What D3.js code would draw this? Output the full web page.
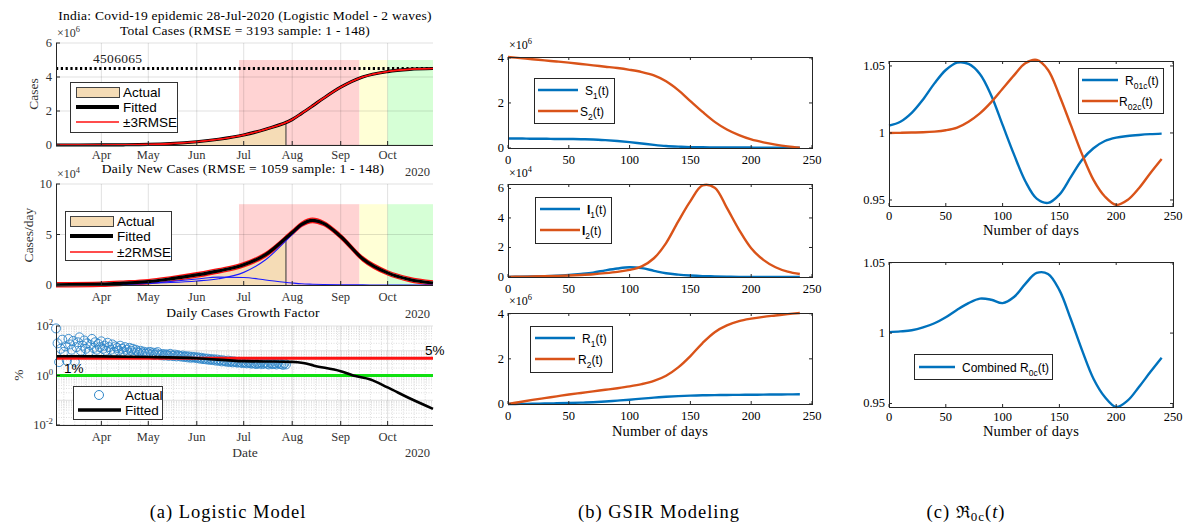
<!DOCTYPE html>
<html>
<head>
<meta charset="utf-8">
<script src="https://cdn.jsdelivr.net/npm/d3@7"></script>
<style>
  body { margin: 0; background: #fff; }
  svg { display: block; }
</style>
</head>
<body>
<svg id="fig" width="1184" height="524"></svg>
<script>
// ---------------- data ----------------
// (a) logistic model, fitted curves, key dates
const fitDates = ["2020-03-03","2020-04-01","2020-04-15","2020-05-01","2020-05-15","2020-06-01","2020-06-15",
  "2020-07-01","2020-07-15","2020-08-01","2020-08-07","2020-08-14","2020-08-21","2020-09-01","2020-09-15",
  "2020-10-01","2020-10-15","2020-10-30"];
const fitTotal = [0, 0.002, 0.012, 0.035, 0.08, 0.19, 0.34, 0.59, 0.93, 1.5, 1.86, 2.3, 2.75, 3.4, 4.0, 4.32, 4.45, 4.5]; // x1e6
const fitDaily = [0.02, 0.08, 0.18, 0.33, 0.6, 1.0, 1.4, 2.0, 3.0, 5.2, 6.0, 6.4, 6.1, 4.8, 2.6, 1.2, 0.55, 0.2]; // x1e4
const wave1Daily = [0, 0.01, 0.05, 0.15, 0.35, 0.6, 0.78, 0.75, 0.5, 0.2, 0.12, 0.08, 0.05, 0.02, 0.01, 0, 0, 0];
const wave2Daily = [0.02, 0.07, 0.13, 0.18, 0.25, 0.4, 0.62, 1.25, 2.5, 5.0, 5.88, 6.32, 6.05, 4.78, 2.59, 1.2, 0.55, 0.2];
const actualDates = ["2020-03-03","2020-04-01","2020-04-15","2020-05-01","2020-05-15","2020-06-01","2020-06-15",
  "2020-07-01","2020-07-15","2020-07-28"];
const actualTotal = [0, 0.002, 0.012, 0.035, 0.08, 0.19, 0.33, 0.59, 0.94, 1.42]; // x1e6
const actualDaily = [0, 0.05, 0.1, 0.2, 0.37, 0.8, 1.1, 1.9, 2.9, 4.8];           // x1e4
const finalSize = 4506065;
const rmseTotal = 3193, rmseDaily = 1059;
const zoneStart = ["2020-06-28", "2020-09-13", "2020-10-01"];
const zoneEnd = ["2020-09-13", "2020-10-01", "2020-10-30"];
// daily growth factor (%), one value per day from 3 Mar to 28 Jul
const growthStart = "2020-03-03";
const growthActual = [
  80, 20, 3.5, 12, 28, 9, 15, 4, 30, 18, 11, 25, 3.6, 14, 22, 35, 10, 16, 26, 12, 20, 9, 17, 30, 13, 22, 11, 19, 14,
  24, 12, 16, 10, 21, 14, 11, 18, 9, 15, 13, 10, 16, 12, 9, 14, 11, 8.5, 13, 10, 12, 8, 11, 9.5, 8.2, 10, 8, 9.2, 7.5, 8.6,
  7.8, 9, 7.2, 8.4, 6.8, 7.9, 8.8, 7, 6.6, 7.4, 6.4, 7.2, 6.9, 6.2, 7.5, 6.5, 6.1, 7, 5.9, 6.6, 6.2, 5.8, 6.4, 5.6, 6.0, 5.4, 5.9, 5.2, 5.7, 5.3, 5.5,
  5.0, 5.4, 4.8, 5.2, 4.6, 4.9, 4.5, 4.8, 4.3, 4.6, 4.2, 4.5, 4.0, 4.4, 3.9, 4.2, 3.7, 4.1, 3.8, 3.6, 4.0, 3.5, 3.8, 3.4, 3.7, 3.5, 3.3, 3.6, 3.4, 3.2,
  3.5, 3.3, 3.1, 3.4, 3.2, 3.0, 3.3, 3.1, 2.9, 3.2, 3.0, 3.4, 2.9, 3.1, 3.3, 3.0, 2.8, 3.2, 3.0, 2.9, 3.1, 2.8, 3.3, 3.0, 2.9, 2.7, 3.1, 2.8];
const growthFitDates = ["2020-03-03","2020-04-01","2020-05-01","2020-06-01","2020-07-01","2020-07-15","2020-08-01",
  "2020-08-08","2020-08-15","2020-09-01","2020-09-09","2020-09-20","2020-10-01","2020-10-15","2020-10-30"];
const growthFit = [6.0, 5.9, 5.6, 5.0, 3.8, 3.7, 3.55, 3.2, 2.5, 1.5, 1.0, 0.69, 0.33, 0.12, 0.045];
const growthRed = 5, growthGreen = 1;

// (b) GSIR model, every 10 days
const days = [0,10,20,30,40,50,60,70,80,90,100,110,120,130,140,150,160,170,180,190,200,210,220,230,240];
const S1 = [0.42,0.42,0.41,0.41,0.40,0.40,0.39,0.38,0.35,0.31,0.26,0.20,0.14,0.09,0.06,0.04,0.03,0.02,0.02,0.02,0.02,0.01,0.01,0.01,0.01]; // x1e6
const S2 = [4.04,3.99,3.94,3.89,3.84,3.79,3.73,3.67,3.61,3.55,3.47,3.37,3.22,2.96,2.57,2.08,1.60,1.16,0.82,0.57,0.38,0.25,0.15,0.07,0.01];
const I1 = [0.01,0.02,0.04,0.06,0.09,0.14,0.21,0.30,0.45,0.58,0.66,0.60,0.42,0.25,0.16,0.10,0.06,0.04,0.02,0.01,0.01,0.01,0.01,0.01,0.01]; // x1e4
const I2 = [0.01,0.02,0.03,0.05,0.07,0.10,0.14,0.19,0.26,0.35,0.48,0.72,1.27,2.30,3.77,5.14,6.20,6.05,4.68,3.20,1.95,1.16,0.66,0.36,0.20];
const R1 = [0,0.005,0.01,0.02,0.03,0.045,0.06,0.08,0.11,0.15,0.19,0.24,0.28,0.32,0.35,0.37,0.385,0.395,0.40,0.405,0.41,0.415,0.42,0.425,0.43]; // x1e6
const R2 = [0,0.09,0.18,0.26,0.34,0.42,0.49,0.56,0.63,0.70,0.78,0.88,1.02,1.25,1.62,2.12,2.70,3.18,3.48,3.67,3.78,3.86,3.92,3.98,4.03];

// (c) reproduction numbers
const R01c = [1.0055,1.0084,1.0150,1.0250,1.0370,1.0470,1.0525,1.0515,1.044,1.028,1.006,0.984,0.964,0.951,0.9478,0.954,0.967,0.980,0.9886,0.994,0.9965,0.9977,0.9985,0.9991,0.9995];
const R02c = [1.0,1.0001,1.0003,1.0005,1.001,1.002,1.004,1.0084,1.0146,1.023,1.033,1.043,1.052,1.0545,1.047,1.028,1.006,0.984,0.965,0.9526,0.9463,0.95,0.9588,0.970,0.9806];
const R0c = [1.0007,1.0012,1.002,1.004,1.007,1.0113,1.0166,1.0213,1.0245,1.0237,1.0213,1.0256,1.035,1.0427,1.042,1.0305,1.010,0.9877,0.9676,0.9546,0.9475,0.952,0.9617,0.9723,0.9825];

// ---------------- setup ----------------
const svg = d3.select("#fig");
const parse = d3.utcParse("%Y-%m-%d");
const SERIF = '"Liberation Serif","DejaVu Serif",serif';
const SANS = '"Liberation Sans",Arial,sans-serif';
const AX = "#262626";
const BLUE = "#0072BD", ORANGE = "#D95319";
const zoneColor = ["#ffd3d3", "#ffffd6", "#d6ffd6"];

function text(x, y, s, o = {}) {
  return svg.append("text").attr("x", x).attr("y", y)
    .attr("font-family", o.family || SERIF).attr("font-size", o.size || 12)
    .attr("text-anchor", o.anchor || "start").attr("fill", o.fill || "#000")
    .attr("letter-spacing", o.spacing || null)
    .text(s);
}
// "x10^n" multiplier label
function powLabel(x, y, base, exp, o = {}) {
  const t = text(x, y, "", o);
  t.append("tspan").text(base);
  t.append("tspan").attr("dy", -5).attr("font-size", (o.size || 12) * 0.7).text(exp);
  return t;
}
// legend text with subscript
function subText(x, y, main, sub, tail, o = {}) {
  const t = text(x, y, "", Object.assign({ family: SANS, size: 12 }, o));
  t.append("tspan").attr("font-weight", o.bold ? "bold" : null).text(main);
  t.append("tspan").attr("dy", 4).attr("font-size", 8.5).text(sub);
  t.append("tspan").attr("dy", -4).text(tail);
  return t;
}

// ---------------- (a) logistic model ----------------
const xDate = d3.scaleUtc().domain([parse("2020-03-03"), parse("2020-10-30")]).range([56, 433]);
const months = d3.utcMonth.range(parse("2020-04-01"), parse("2020-10-02"));
const fmtMonth = d3.utcFormat("%b");

function dateGrid(y, yTicks, minor) {
  const g = svg.append("g").attr("stroke", "#000");
  const [yb, yt] = y.range();
  if (minor) {
    g.selectAll(null).data(d3.utcWeek.range(xDate.domain()[0], xDate.domain()[1])).join("line")
      .attr("x1", d => xDate(d)).attr("x2", d => xDate(d)).attr("y1", yb).attr("y2", yt)
      .attr("stroke-opacity", 0.13).attr("stroke-dasharray", "1,1.5");
    g.selectAll(null).data(minor).join("line")
      .attr("x1", 56).attr("x2", 433).attr("y1", d => y(d)).attr("y2", d => y(d))
      .attr("stroke-opacity", 0.14).attr("stroke-dasharray", "1,1.5");
  }
  g.selectAll(null).data(months).join("line")
    .attr("x1", d => xDate(d)).attr("x2", d => xDate(d)).attr("y1", yb).attr("y2", yt)
    .attr("stroke-opacity", 0.12);
  g.selectAll(null).data(yTicks).join("line")
    .attr("x1", 56).attr("x2", 433).attr("y1", d => y(d)).attr("y2", d => y(d))
    .attr("stroke-opacity", 0.12);
}
function dateAxes(y, yTicks, yLabel, monthY) {
  const [yb, yt] = y.range();
  const g = svg.append("g").attr("stroke", AX).attr("stroke-width", 1);
  g.append("line").attr("x1", 56.5).attr("x2", 56.5).attr("y1", yb).attr("y2", yt);
  g.append("line").attr("x1", 56).attr("x2", 433).attr("y1", yb + 0.5).attr("y2", yb + 0.5);
  g.selectAll(null).data(months).join("line")
    .attr("x1", d => xDate(d)).attr("x2", d => xDate(d)).attr("y1", yb).attr("y2", yb - 4);
  g.selectAll(null).data(yTicks).join("line")
    .attr("x1", 56).attr("x2", 60).attr("y1", d => y(d)).attr("y2", d => y(d));
  months.forEach(m => text(xDate(m), monthY, fmtMonth(m), { anchor: "middle", size: 12.5, fill: "#333" }));
  if (yLabel) yTicks.forEach(v => text(52, y(v) + 4, yLabel(v), { anchor: "end", size: 12.5, fill: "#333" }));
}
function zones(y, top) {
  zoneStart.forEach((s, i) => {
    svg.append("rect").attr("x", xDate(parse(s))).attr("y", y(top))
      .attr("width", xDate(parse(zoneEnd[i])) - xDate(parse(s))).attr("height", y(0) - y(top))
      .attr("fill", zoneColor[i]);
  });
}
const fitPts = (arr, off = 0) => fitDates.map((d, i) => [parse(d), arr[i] + off]);
const actPts = arr => actualDates.map((d, i) => [parse(d), arr[i]]);
const LEG = { family: SANS, size: 13.5 };

// titles
text(245, 20, "India: Covid-19 epidemic 28-Jul-2020 (Logistic Model - 2 waves)", { anchor: "middle", size: 13.5, spacing: 0.25 });
text(245, 35, "Total Cases (RMSE = 3193 sample: 1 - 148)", { anchor: "middle", size: 13.5, spacing: 0.25 });

// panel 1 : total cases
{
  const y = d3.scaleLinear().domain([0, 6]).range([145, 43]);
  const line = d3.line().x(d => xDate(d[0])).y(d => y(d[1])).curve(d3.curveMonotoneX);
  zones(y, 5);
  dateGrid(y, [0, 2, 4, 6]);
  svg.append("path").datum(actPts(actualTotal))
    .attr("d", d3.area().x(d => xDate(d[0])).y0(y(0)).y1(d => y(d[1])).curve(d3.curveMonotoneX))
    .attr("fill", "#f5dcb6").attr("stroke", "none");
  const last = actualDates.length - 1;
  svg.append("line").attr("x1", xDate(parse(actualDates[last]))).attr("x2", xDate(parse(actualDates[last])))
    .attr("y1", y(0)).attr("y2", y(actualTotal[last])).attr("stroke", "#333").attr("stroke-width", 1);
  svg.append("line").attr("x1", 56).attr("x2", 433).attr("y1", y(finalSize / 1e6)).attr("y2", y(finalSize / 1e6))
    .attr("stroke", "#000").attr("stroke-width", 3).attr("stroke-dasharray", "2.2,2.6");
  text(93, 63, String(finalSize), { size: 13.5, fill: "#222", spacing: 0.3 });
  svg.append("path").datum(fitPts(fitTotal)).attr("d", line)
    .attr("fill", "none").attr("stroke", "#000").attr("stroke-width", 3.2);
  [-3, 3].forEach(k => svg.append("path").datum(fitPts(fitTotal, k * rmseTotal / 1e6)).attr("d", line)
    .attr("fill", "none").attr("stroke", "#ff1010").attr("stroke-width", 1.3));
  dateAxes(y, [0, 2, 4, 6], v => v, 159);
  powLabel(57, 37, "×10", "6", { size: 12, fill: "#333" });
  text(0, 0, "Cases", { anchor: "middle", size: 13.5, fill: "#333" }).attr("transform", "translate(38,94) rotate(-90)");
  text(430, 176, "2020", { anchor: "end", size: 12.5, fill: "#333" });
  // legend
  svg.append("rect").attr("x", 70.5).attr("y", 82.5).attr("width", 107).attr("height", 50)
    .attr("fill", "#fff").attr("stroke", "#333");
  svg.append("rect").attr("x", 76.5).attr("y", 87.5).attr("width", 43).attr("height", 10)
    .attr("fill", "#f5dcb6").attr("stroke", "#444");
  svg.append("line").attr("x1", 76).attr("x2", 119).attr("y1", 107).attr("y2", 107).attr("stroke", "#000").attr("stroke-width", 4);
  svg.append("line").attr("x1", 76).attr("x2", 119).attr("y1", 122).attr("y2", 122).attr("stroke", "#ff1010").attr("stroke-width", 1.5);
  text(123, 97, "Actual", LEG);
  text(123, 112, "Fitted", LEG);
  text(123, 127, "±3RMSE", LEG);
}

// panel 2 : daily new cases
{
  const y = d3.scaleLinear().domain([0, 10]).range([285, 184]);
  const line = d3.line().x(d => xDate(d[0])).y(d => y(d[1])).curve(d3.curveMonotoneX);
  text(243, 173, "Daily New Cases (RMSE = 1059 sample: 1 - 148)", { anchor: "middle", size: 13.5, spacing: 0.25 });
  zones(y, 8);
  dateGrid(y, [0, 5, 10]);
  svg.append("path").datum(actPts(actualDaily))
    .attr("d", d3.area().x(d => xDate(d[0])).y0(y(0)).y1(d => y(d[1])).curve(d3.curveMonotoneX))
    .attr("fill", "#f5dcb6");
  const last = actualDates.length - 1;
  svg.append("line").attr("x1", xDate(parse(actualDates[last]))).attr("x2", xDate(parse(actualDates[last])))
    .attr("y1", y(0)).attr("y2", y(actualDaily[last])).attr("stroke", "#333");
  [-2, 2].forEach(k => svg.append("path").datum(fitPts(fitDaily, k * rmseDaily / 1e4)).attr("d", line)
    .attr("fill", "none").attr("stroke", "#ff1010").attr("stroke-width", 1.3));
  [wave1Daily, wave2Daily].forEach(w => svg.append("path").datum(fitPts(w)).attr("d", line)
    .attr("fill", "none").attr("stroke", "#1a1aff").attr("stroke-width", 1.1));
  svg.append("path").datum(fitPts(fitDaily)).attr("d", line)
    .attr("fill", "none").attr("stroke", "#000").attr("stroke-width", 3.2);
  dateAxes(y, [0, 5, 10], v => v, 301);
  powLabel(57, 178, "×10", "4", { size: 12, fill: "#333" });
  text(0, 0, "Cases/day", { anchor: "middle", size: 13.5, fill: "#333" }).attr("transform", "translate(33,235) rotate(-90)");
  text(430, 318, "2020", { anchor: "end", size: 12.5, fill: "#333" });
  svg.append("rect").attr("x", 65.5).attr("y", 211.5).attr("width", 106).attr("height", 49)
    .attr("fill", "#fff").attr("stroke", "#333");
  svg.append("rect").attr("x", 70.5).attr("y", 216.5).attr("width", 43).attr("height", 10)
    .attr("fill", "#f5dcb6").attr("stroke", "#444");
  svg.append("line").attr("x1", 70).attr("x2", 113).attr("y1", 236).attr("y2", 236).attr("stroke", "#000").attr("stroke-width", 4);
  svg.append("line").attr("x1", 70).attr("x2", 113).attr("y1", 252).attr("y2", 252).attr("stroke", "#ff1010").attr("stroke-width", 1.5);
  text(117, 226, "Actual", LEG);
  text(117, 241, "Fitted", LEG);
  text(117, 257, "±2RMSE", LEG);
}

// panel 3 : growth factor
{
  const y = d3.scaleLog().domain([1e-2, 1e2]).range([425, 326]);
  text(243, 317, "Daily Cases Growth Factor", { anchor: "middle", size: 13.5, spacing: 0.25 });
  const minor = [];
  [1e-2, 1e-1, 1, 10].forEach(dec => { for (let k = 2; k <= 9; k++) minor.push(dec * k); });
  dateGrid(y, [1e-2, 1e-1, 1, 10, 100], minor);
  const x0 = parse(growthStart);
  svg.append("g").selectAll("circle").data(growthActual).join("circle")
    .attr("cx", (d, i) => xDate(d3.utcDay.offset(x0, i))).attr("cy", d => y(d)).attr("r", 4.5)
    .attr("fill", "none").attr("stroke", "#2f86c8").attr("stroke-width", 0.9);
  svg.append("line").attr("x1", 56).attr("x2", 433).attr("y1", y(growthRed)).attr("y2", y(growthRed))
    .attr("stroke", "#ff1010").attr("stroke-width", 3);
  svg.append("line").attr("x1", 56).attr("x2", 433).attr("y1", y(growthGreen)).attr("y2", y(growthGreen))
    .attr("stroke", "#10e010").attr("stroke-width", 3);
  svg.append("path").datum(growthFitDates.map((d, i) => [parse(d), growthFit[i]]))
    .attr("d", d3.line().x(d => xDate(d[0])).y(d => y(d[1])).curve(d3.curveMonotoneX))
    .attr("fill", "none").attr("stroke", "#000").attr("stroke-width", 2.6);
  dateAxes(y, [1e-2, 1, 100], null, 441);
  [[1e-2, "-2"], [1, "0"], [100, "2"]].forEach(([v, e]) => powLabel(53, y(v) + 4, "10", e, { anchor: "end", size: 12.5, fill: "#333" }));
  text(0, 0, "%", { anchor: "middle", size: 13.5, fill: "#333" }).attr("transform", "translate(23,375) rotate(-90)");
  text(245, 457, "Date", { anchor: "middle", size: 13.5, fill: "#333" });
  text(430, 457, "2020", { anchor: "end", size: 12.5, fill: "#333" });
  text(425, 355, "5%", { family: SANS, size: 13.5 });
  text(64, 373, "1%", { family: SANS, size: 13.5 });
  svg.append("rect").attr("x", 73.5).attr("y", 386.5).attr("width", 89).attr("height", 33)
    .attr("fill", "#fff").attr("stroke", "#333");
  svg.append("circle").attr("cx", 99).attr("cy", 395).attr("r", 4.5).attr("fill", "none").attr("stroke", "#2f86c8");
  svg.append("line").attr("x1", 78).attr("x2", 121).attr("y1", 410).attr("y2", 410).attr("stroke", "#000").attr("stroke-width", 3.5);
  text(125, 400, "Actual", LEG);
  text(125, 415, "Fitted", LEG);
}

// ---------------- (b) and (c) boxed panels ----------------
function boxPanel(x, y, xTicks, yTicks, yFmt, tickLabelY) {
  const [x0, x1] = x.range();
  const [yb, yt] = y.range();
  const g = svg.append("g").attr("stroke", AX);
  g.append("rect").attr("x", x0 + 0.5).attr("y", yt + 0.5).attr("width", x1 - x0).attr("height", yb - yt)
    .attr("fill", "none");
  xTicks.forEach(v => {
    g.append("line").attr("x1", x(v)).attr("x2", x(v)).attr("y1", yb).attr("y2", yb - 3);
    g.append("line").attr("x1", x(v)).attr("x2", x(v)).attr("y1", yt).attr("y2", yt + 3);
    text(x(v), tickLabelY, v, { anchor: "middle", size: 12.5 });
  });
  yTicks.forEach(v => {
    g.append("line").attr("x1", x0).attr("x2", x0 + 3).attr("y1", y(v)).attr("y2", y(v));
    g.append("line").attr("x1", x1).attr("x2", x1 - 3).attr("y1", y(v)).attr("y2", y(v));
    text(x0 - 4, y(v) + 4, yFmt(v), { anchor: "end", size: 12.5 });
  });
}
function series(x, y, arr, color) {
  svg.append("path").datum(days.map((d, i) => [d, arr[i]]))
    .attr("d", d3.line().x(d => x(d[0])).y(d => y(d[1])).curve(d3.curveCatmullRom.alpha(0.5)))
    .attr("fill", "none").attr("stroke", color).attr("stroke-width", 2.4);
}
function legendBox(x, y, w, h) {
  svg.append("rect").attr("x", x + 0.5).attr("y", y + 0.5).attr("width", w).attr("height", h)
    .attr("fill", "#fff").attr("stroke", AX);
}
function legendLine(x1, x2, y, color) {
  svg.append("line").attr("x1", x1).attr("x2", x2).attr("y1", y).attr("y2", y)
    .attr("stroke", color).attr("stroke-width", 2.6);
}

const xDays = d3.scaleLinear().domain([0, 250]).range([508, 812]);
const dayTicks = [0, 50, 100, 150, 200, 250];
{
  const y = d3.scaleLinear().domain([0, 4.04]).range([148, 57]);
  series(xDays, y, S1, BLUE); series(xDays, y, S2, ORANGE);
  boxPanel(xDays, y, dayTicks, [0, 2, 4], v => v, 164);
  powLabel(509, 49, "×10", "6", { size: 12 });
  legendBox(534, 78, 80, 45);
  legendLine(538, 578, 90, BLUE); legendLine(538, 578, 111, ORANGE);
  subText(585, 95, "S", "1", "(t)"); subText(580, 116, "S", "2", "(t)");
}
{
  const y = d3.scaleLinear().domain([0, 6.3]).range([277, 184]);
  series(xDays, y, I1, BLUE); series(xDays, y, I2, ORANGE);
  boxPanel(xDays, y, dayTicks, [0, 2, 4, 6], v => v, 293);
  powLabel(509, 177, "×10", "4", { size: 12 });
  legendBox(535, 197, 76, 46);
  legendLine(540, 580, 209, BLUE); legendLine(540, 580, 230, ORANGE);
  subText(587, 214, "I", "1", "(t)", { bold: true }); subText(582, 235, "I", "2", "(t)", { bold: true });
}
{
  const y = d3.scaleLinear().domain([0, 4.03]).range([404, 313]);
  series(xDays, y, R1, BLUE); series(xDays, y, R2, ORANGE);
  boxPanel(xDays, y, dayTicks, [0, 2, 4], v => v, 420);
  powLabel(509, 305, "×10", "6", { size: 12 });
  text(660, 436, "Number of days", { anchor: "middle", size: 14.5, spacing: 0.2 });
  legendBox(530, 326, 82, 46);
  legendLine(535, 575, 338, BLUE); legendLine(535, 575, 359, ORANGE);
  subText(582, 343, "R", "1", "(t)"); subText(578, 364, "R", "2", "(t)");
}

const xDays2 = d3.scaleLinear().domain([0, 250]).range([889, 1173]);
const fmtR = v => (v === 1 ? "1" : d3.format(".2f")(v));
{
  const y = d3.scaleLinear().domain([0.9455, 1.0537]).range([206, 61]);
  series(xDays2, y, R01c, BLUE); series(xDays2, y, R02c, ORANGE);
  boxPanel(xDays2, y, dayTicks, [0.95, 1, 1.05], fmtR, 220);
  text(1031, 235, "Number of days", { anchor: "middle", size: 14.5, spacing: 0.2 });
  legendBox(1078, 68, 85, 45);
  legendLine(1082, 1118, 80, BLUE); legendLine(1082, 1118, 101, ORANGE);
  subText(1125, 85, "R", "01c", "(t)"); subText(1119, 106, "R", "02c", "(t)");
}
{
  const y = d3.scaleLinear().domain([0.9475, 1.0505]).range([407, 262]);
  series(xDays2, y, R0c, BLUE);
  boxPanel(xDays2, y, dayTicks, [0.95, 1, 1.05], fmtR, 421);
  text(1031, 436, "Number of days", { anchor: "middle", size: 14.5, spacing: 0.2 });
  legendBox(914, 354, 138, 25);
  legendLine(919, 955, 367, BLUE);
  subText(962, 372, "Combined R", "0c", "(t)");
}

// ---------------- captions ----------------
const CAP = { anchor: "middle", size: 18.5, spacing: 1 };
text(228, 518, "(a) Logistic Model", CAP);
text(659, 518, "(b) GSIR Modeling", CAP);
{
  const t = text(966, 518, "", CAP);
  t.append("tspan").text("(c) ");
  t.append("tspan").attr("font-family", '"DejaVu Serif",serif').attr("font-size", 17).text("ℜ");
  t.append("tspan").attr("dy", 3).attr("font-size", 13).text("0c");
  t.append("tspan").attr("dy", -3).text("(");
  t.append("tspan").attr("font-style", "italic").text("t");
  t.append("tspan").text(")");
}
</script>
</body>
</html>
